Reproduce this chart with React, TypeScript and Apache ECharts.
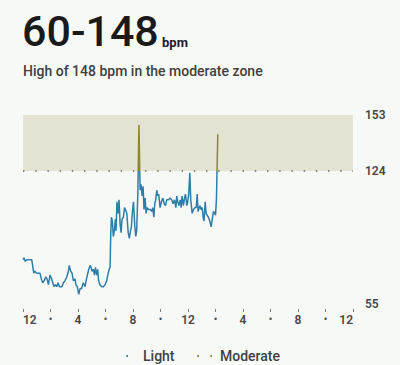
import React, { useEffect, useRef } from "react";
import * as echarts from "echarts";

// time of day in minutes since midnight
const minutes = [
  0, 4, 10, 16, 23, 31, 38, 42, 47, 52, 60, 67, 74, 80, 86, 92, 99, 105, 111, 118,
  125, 130, 135, 141, 147, 153, 159, 164, 170, 176, 183, 191, 198, 202, 208, 214, 220, 227, 231, 237,
  243, 249, 256, 263, 271, 275, 281, 287, 293, 297, 301, 307, 312, 316, 322, 326, 330, 336, 344, 351,
  358, 365, 370, 376, 380, 383, 386, 390, 394, 399, 403, 406, 410, 415, 419, 424, 428, 432, 438, 443,
  447, 453, 459, 464, 469, 473, 477, 482, 488, 492, 496, 501, 506, 511, 515, 520, 524, 528, 533, 537,
  542, 547, 555, 562, 566, 571, 575, 579, 584, 588, 592, 598, 604, 610, 616, 622, 627, 635, 642, 649,
  655, 661, 667, 671, 675, 680, 686, 690, 694, 700, 705, 709, 715, 719, 723, 728, 732, 738, 744, 750,
  756, 760, 764, 769, 773, 777, 782, 786, 790, 795, 799, 804, 809, 815, 821, 827, 831, 836, 840, 844,
  850,
];

const bpm = [
  78, 79, 77, 78, 78, 78, 78, 75, 71, 72, 71, 71, 71, 68, 66, 67, 69, 68, 65, 70,
  68, 66, 64, 65, 64, 66, 64, 64, 64, 66, 67, 69, 72, 75, 72, 71, 67, 68, 65, 64,
  60, 63, 63, 66, 64, 67, 70, 73, 75, 74, 72, 73, 70, 74, 70, 73, 67, 65, 64, 64,
  65, 67, 70, 73, 74, 92, 100, 98, 90, 93, 99, 93, 108, 102, 109, 96, 92, 99, 100, 105,
  104, 102, 92, 89, 93, 95, 102, 108, 95, 90, 93, 112, 148, 114, 117, 111, 116, 104, 110, 102,
  105, 104, 104, 103, 105, 100, 107, 109, 114, 111, 112, 105, 108, 110, 107, 106, 109, 109, 110, 109,
  107, 109, 105, 111, 108, 106, 109, 105, 111, 106, 110, 112, 106, 108, 112, 123, 109, 102, 104, 105,
  105, 112, 103, 105, 106, 104, 105, 100, 98, 108, 102, 101, 100, 98, 95, 100, 103, 102, 101, 109,
  143,
];

const xTickLabels = ["12", "•", "4", "•", "8", "•", "12", "•", "4", "•", "8", "•", "12"];
const yTickValues = [55, 124, 153];
const zoneBounds = [124, 153];

const title = "60-148";
const unit = "bpm";
const subtitle = "High of 148 bpm in the moderate zone";
const legendNames = ["Light", "Moderate"];

const BLUE = "#2f7ea8";
const OLIVE = "#8a872c";
const BG = "#f7f9f7";
const FONT = "Roboto, 'Noto Sans', sans-serif";

export default function App() {
  const ref = useRef<HTMLDivElement>(null);

  useEffect(() => {
    document.body.style.margin = "0";
    document.body.style.background = BG;
    if (!ref.current) return;
    const chart = echarts.init(ref.current, undefined, { renderer: "svg" });
    const data = minutes.map((m, i) => [m, bpm[i]]);

    const labelStyle = {
      show: true,
      position: "end",
      distance: 12,
      formatter: "{c}",
      fontSize: 12,
      fontWeight: 600,
      color: "#474747",
      fontFamily: FONT,
    };

    chart.setOption({
      animation: false,
      backgroundColor: BG,
      grid: { left: 23, right: 47, top: 115, bottom: 61 },
      xAxis: {
        type: "value",
        min: 0,
        max: 1440,
        interval: 120,
        position: "bottom",
        offset: 5,
        axisLine: { show: true, lineStyle: { color: "rgba(0,0,0,0)" } },
        axisTick: { show: true, length: 3, lineStyle: { color: "#7a7a7a", width: 1 } },
        splitLine: { show: false },
        axisLabel: {
          margin: 5,
          fontSize: 12,
          fontWeight: 600,
          color: "#474747",
          fontFamily: FONT,
          alignMinLabel: "left",
          alignMaxLabel: "right",
          formatter: (v: number) => {
            const t = xTickLabels[Math.round(v / 120)] ?? "";
            return t === "•" ? "{d|•}" : t;
          },
          rich: { d: { fontSize: 10, color: "#4a4a4a", fontFamily: FONT } },
        },
      },
      yAxis: {
        type: "value",
        position: "right",
        min: 55,
        max: 153,
        axisLine: { show: false },
        axisTick: { show: false },
        splitLine: { show: false },
        axisLabel: { show: false },
      },
      visualMap: {
        show: false,
        type: "piecewise",
        dimension: 1,
        seriesIndex: 0,
        pieces: [
          { gt: 0, lte: 124, color: BLUE },
          { gt: 124, lte: 250, color: OLIVE },
        ],
        outOfRange: { color: BLUE },
      },
      series: [
        {
          type: "line",
          data,
          showSymbol: false,
          symbol: "none",
          lineStyle: { width: 1.5 },
          z: 3,
          markArea: {
            silent: true,
            itemStyle: { color: "#e4e3d3", borderRadius: 4 },
            data: [[{ yAxis: zoneBounds[0] }, { yAxis: zoneBounds[1] }]],
          },
          markLine: {
            silent: true,
            symbol: "none",
            label: labelStyle,
            lineStyle: { color: "#6e6d45", width: 1.5, type: [1.5, 10.7] },
            data: yTickValues.map((v) => ({
              yAxis: v,
              lineStyle:
                v === zoneBounds[0] ? undefined : { color: "rgba(0,0,0,0)", width: 0 },
            })),
          },
        },
      ],
      graphic: [
        {
          type: "text",
          x: 22,
          y: 31,
          style: {
            text: title,
            font: `500 43px ${FONT}`,
            fill: "#1a1a1a",
            verticalAlign: "middle",
          },
        },
        {
          type: "text",
          x: 162,
          y: 42,
          style: {
            text: unit,
            font: `700 13px ${FONT}`,
            fill: "#1c1c1c",
            verticalAlign: "middle",
          },
        },
        {
          type: "text",
          x: 23,
          y: 70.5,
          style: {
            text: subtitle,
            font: `500 14px ${FONT}`,
            fill: "#3f3f3f",
            verticalAlign: "middle",
          },
        },
        { type: "circle", shape: { cx: 127, cy: 356, r: 1 }, style: { fill: BLUE } },
        {
          type: "text",
          x: 143,
          y: 356,
          style: {
            text: legendNames[0],
            font: `500 14px ${FONT}`,
            fill: "#3f3f3f",
            verticalAlign: "middle",
          },
        },
        { type: "circle", shape: { cx: 198, cy: 356, r: 1 }, style: { fill: OLIVE } },
        { type: "circle", shape: { cx: 211, cy: 356, r: 1 }, style: { fill: OLIVE } },
        {
          type: "text",
          x: 220,
          y: 356,
          style: {
            text: legendNames[1],
            font: `500 14px ${FONT}`,
            fill: "#3f3f3f",
            verticalAlign: "middle",
          },
        },
      ],
    });

    return () => chart.dispose();
  }, []);

  return <div ref={ref} style={{ width: 400, height: 365 }} />;
}
